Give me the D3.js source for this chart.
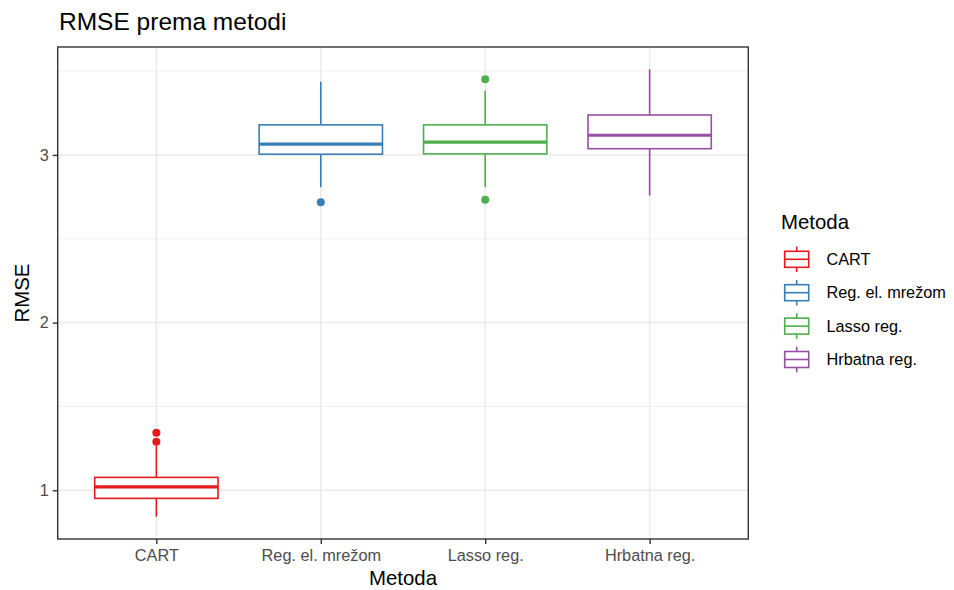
<!DOCTYPE html>
<html><head><meta charset="utf-8">
<script src="https://cdn.jsdelivr.net/npm/d3@7"></script>
<style>body{margin:0;background:#fff}svg{display:block}text{font-family:"Liberation Sans",Arial,sans-serif}</style>
</head><body>
<script>
const categories = ["CART", "Reg. el. mrežom", "Lasso reg.", "Hrbatna reg."];
const colors = ["#E41A1C", "#377EB8", "#4DAF4A", "#984EA3"];
const whiskerLow = [0.843, 2.808, 2.808, 2.758];
const q1 = [0.952, 3.004, 3.006, 3.037];
const median = [1.020, 3.064, 3.076, 3.117];
const q3 = [1.077, 3.179, 3.179, 3.238];
const whiskerHigh = [1.264, 3.436, 3.383, 3.510];
const outliers = [[1.290, 1.343], [2.718], [2.732, 3.451], []];
const yTicks = [1, 2, 3];
const yMinor = [1.5, 2.5, 3.5];

const W = 954, H = 590;
const panel = {l: 57.7, r: 748.3, t: 47, b: 539};
const svg = d3.select("body").append("svg").attr("width", W).attr("height", H);

const allVals = whiskerLow.concat(whiskerHigh, outliers.flat());
const lo = d3.min(allVals), hi = d3.max(allVals), pad = (hi - lo) * 0.05;
const y = d3.scaleLinear().domain([lo - pad, hi + pad]).range([panel.b, panel.t]);
const x = d3.scalePoint().domain(categories).range([panel.l, panel.r]).padding(0.6);
const bw = x.step() * 0.75;

const g = svg.append("g");
// grid
g.selectAll(".minor").data(yMinor).join("line")
  .attr("x1", panel.l).attr("x2", panel.r).attr("y1", d => y(d)).attr("y2", d => y(d))
  .attr("stroke", "#EBEBEB").attr("stroke-width", 0.8);
g.selectAll(".majory").data(yTicks).join("line")
  .attr("x1", panel.l).attr("x2", panel.r).attr("y1", d => y(d)).attr("y2", d => y(d))
  .attr("stroke", "#EBEBEB").attr("stroke-width", 1.5);
g.selectAll(".majorx").data(categories).join("line")
  .attr("y1", panel.t).attr("y2", panel.b).attr("x1", d => x(d)).attr("x2", d => x(d))
  .attr("stroke", "#EBEBEB").attr("stroke-width", 1.5);

// boxes
categories.forEach((c, i) => {
  const cx = x(c), col = colors[i];
  const bg = g.append("g");
  bg.append("line").attr("x1", cx).attr("x2", cx).attr("y1", y(q3[i])).attr("y2", y(whiskerHigh[i]))
    .attr("stroke", col).attr("stroke-width", 1.6);
  bg.append("line").attr("x1", cx).attr("x2", cx).attr("y1", y(q1[i])).attr("y2", y(whiskerLow[i]))
    .attr("stroke", col).attr("stroke-width", 1.6);
  bg.append("rect").attr("x", cx - bw / 2).attr("width", bw)
    .attr("y", y(q3[i])).attr("height", y(q1[i]) - y(q3[i]))
    .attr("fill", "#fff").attr("stroke", col).attr("stroke-width", 1.6);
  bg.append("line").attr("x1", cx - bw / 2).attr("x2", cx + bw / 2)
    .attr("y1", y(median[i])).attr("y2", y(median[i]))
    .attr("stroke", col).attr("stroke-width", 3.2);
  bg.selectAll("circle").data(outliers[i]).join("circle")
    .attr("cx", cx).attr("cy", d => y(d)).attr("r", 4).attr("fill", col);
});

// border
svg.append("rect").attr("x", panel.l).attr("y", panel.t)
  .attr("width", panel.r - panel.l).attr("height", panel.b - panel.t)
  .attr("fill", "none").attr("stroke", "#333333").attr("stroke-width", 1.4);

// axes
const yAxis = svg.append("g").attr("transform", `translate(${panel.l},0)`)
  .call(d3.axisLeft(y).tickValues(yTicks).tickFormat(d3.format("d")).tickSize(5).tickPadding(4));
const xAxis = svg.append("g").attr("transform", `translate(0,${panel.b})`)
  .call(d3.axisBottom(x).tickSize(5).tickPadding(5));
[yAxis, xAxis].forEach(a => {
  a.select(".domain").remove();
  a.selectAll(".tick line").attr("stroke", "#333333").attr("stroke-width", 1.4);
  a.selectAll(".tick text").attr("fill", "#4D4D4D").style("font-size", "16.3px")
    .style("font-family", '"Liberation Sans",Arial,sans-serif');
});

// titles
svg.append("text").attr("x", 59).attr("y", 30).text("RMSE prema metodi")
  .style("font-size", "24.5px").attr("fill", "#000");
svg.append("text").attr("x", (panel.l + panel.r) / 2).attr("y", 585).attr("text-anchor", "middle")
  .text("Metoda").style("font-size", "20.4px");
svg.append("text").attr("transform", `translate(29,${(panel.t + panel.b) / 2}) rotate(-90)`)
  .attr("text-anchor", "middle").text("RMSE").style("font-size", "20.4px");

// legend
const lg = svg.append("g");
lg.append("text").attr("x", 781).attr("y", 229).text("Metoda").style("font-size", "20.4px");
categories.forEach((c, i) => {
  const cy = 259.3 + i * 33.4, kx = 780.7, ks = 32, col = colors[i];
  const k = lg.append("g");
  k.append("line").attr("x1", kx + ks / 2).attr("x2", kx + ks / 2).attr("y1", cy - ks * 0.4).attr("y2", cy + ks * 0.4)
    .attr("stroke", col).attr("stroke-width", 1.6);
  k.append("rect").attr("x", kx + ks * 0.125).attr("width", ks * 0.75)
    .attr("y", cy - ks * 0.25).attr("height", ks * 0.5)
    .attr("fill", "#fff").attr("stroke", col).attr("stroke-width", 1.6);
  k.append("line").attr("x1", kx + ks * 0.125).attr("x2", kx + ks * 0.875).attr("y1", cy).attr("y2", cy)
    .attr("stroke", col).attr("stroke-width", 1.6);
  lg.append("text").attr("x", 826.5).attr("y", cy).attr("dy", "0.35em").text(c)
    .style("font-size", "16.3px").attr("fill", "#000");
});
</script>
</body></html>
